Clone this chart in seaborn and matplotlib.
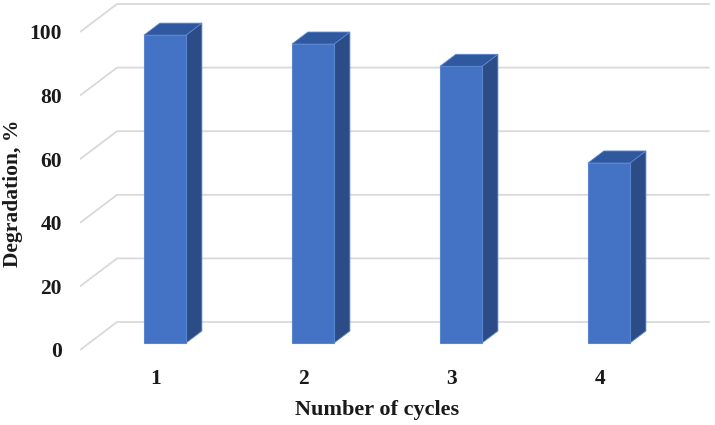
import numpy as np
import pandas as pd
import matplotlib
matplotlib.use("Agg")
import matplotlib.pyplot as plt
from matplotlib.patches import Polygon
import seaborn as sns

# Data
cycles = ["1", "2", "3", "4"]
degradation = [96.8, 94.0, 87.0, 56.6]
y_ticks = [0, 20, 40, 60, 80, 100]

# Excel-like 3D look (all in data units)
DX, DY = 0.25, 8.8          # full depth of the floor / walls
BAR_POS = 0.25              # bar front face sits this far into the depth
BAR_DEPTH = 0.43            # bar depth as fraction of full depth
BAR_W = 0.284

front = "#4472C4"
side = "#2C4C88"
top = "#30589E"
edge = "#5A86D0"
grid = "#D9D9D9"

sns.set_style("white")
plt.rcParams["font.family"] = ["Liberation Serif", "DejaVu Serif"]
plt.rcParams["font.weight"] = "bold"

fig = plt.figure(figsize=(7.15, 4.25), dpi=100)
ax = fig.add_axes([80 / 715, (425 - 352) / 425, 632 / 715, 352 / 425])

df = pd.DataFrame({"Cycles": cycles, "Degradation": degradation})
sns.barplot(data=df, x="Cycles", y="Degradation", width=BAR_W, color=front,
            saturation=1, edgecolor=edge, linewidth=0.8, ax=ax, zorder=3)

ax.set_xlim(-0.574, 3.696)
ax.set_ylim(-2.83, 107.86)

# back wall gridlines with the slanted side-wall part
x_left = -0.574
x_right = 3.68
for v in y_ticks:
    y_front = v - BAR_POS * DY
    y_back = v + (1 - BAR_POS) * DY
    ax.plot([x_left, x_left + DX, x_right], [y_front, y_back, y_back],
            color=grid, lw=1.3, zorder=1, solid_capstyle="butt")

# side and top faces of each bar
bdx, bdy = BAR_DEPTH * DX, BAR_DEPTH * DY
for p in ax.patches[:len(cycles)]:
    x0, w, h = p.get_x(), p.get_width(), p.get_height()
    x1 = x0 + w
    ax.add_patch(Polygon([(x1, 0), (x1 + bdx, bdy), (x1 + bdx, h + bdy), (x1, h)],
                         closed=True, facecolor=side, edgecolor=edge, lw=0.6, zorder=2))
    ax.add_patch(Polygon([(x0, h), (x0 + bdx, h + bdy), (x1 + bdx, h + bdy), (x1, h)],
                         closed=True, facecolor=top, edgecolor=edge, lw=0.6, zorder=2))

# ticks sit on the front plane
ax.set_yticks([v - BAR_POS * DY for v in y_ticks])
ax.set_yticklabels([str(v) for v in y_ticks])
ax.set_xticks([i - BAR_POS * DX for i in range(len(cycles))])
ax.set_xticklabels(cycles)
ax.tick_params(axis="both", length=0, labelsize=15.5, colors="#1a1a1a")
ax.tick_params(axis="y", pad=13)
ax.tick_params(axis="x", pad=12)
for lab in ax.get_xticklabels() + ax.get_yticklabels():
    lab.set_fontweight("bold")

ax.set_xlabel("Number of cycles", fontsize=16, fontweight="bold", color="#1a1a1a")
ax.set_ylabel("Degradation, %", fontsize=15.5, fontweight="bold", color="#1a1a1a")
ax.xaxis.set_label_coords(0.47, -0.137)
ax.yaxis.set_label_coords(-0.09, 0.452)

sns.despine(ax=ax, left=True, bottom=True)
ax.set_facecolor("white")

fig.savefig("out.png", dpi=100)
